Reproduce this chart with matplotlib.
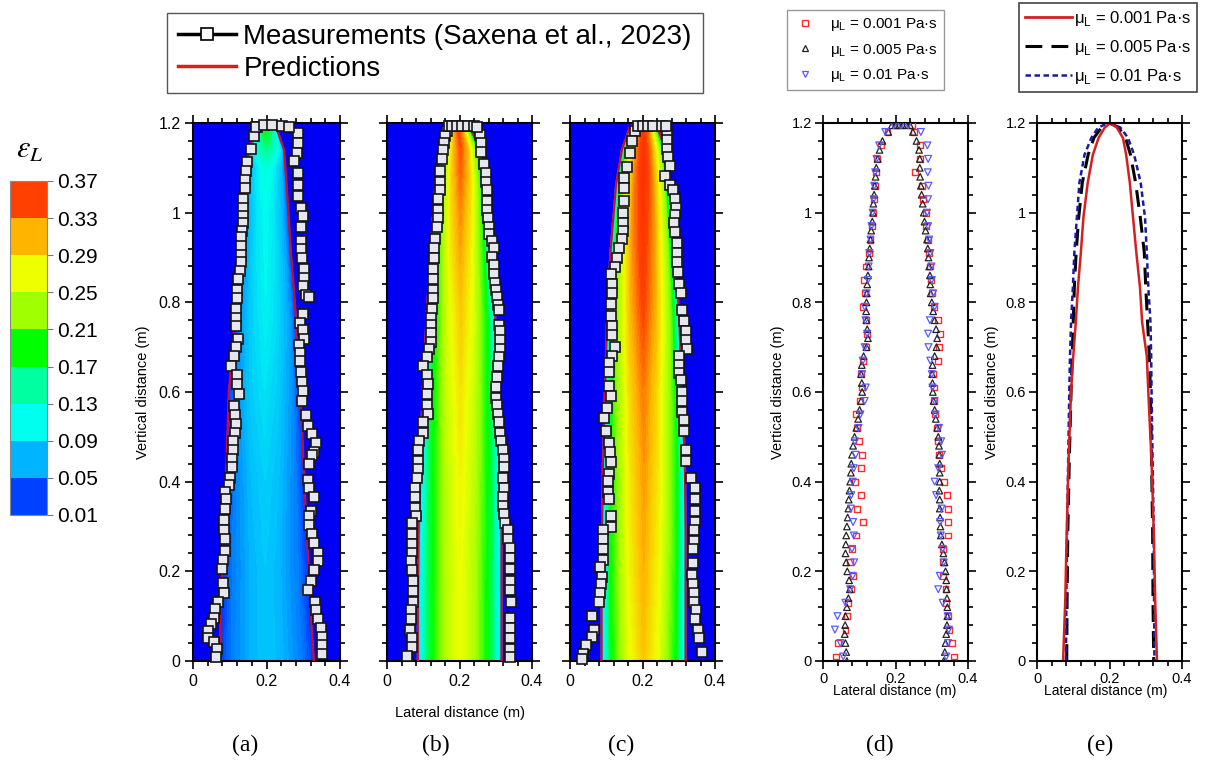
import numpy as np
import matplotlib
matplotlib.use('Agg')
import matplotlib.pyplot as plt
from matplotlib.colors import LinearSegmentedColormap, ListedColormap, BoundaryNorm
from matplotlib.cm import ScalarMappable
from matplotlib.lines import Line2D
from matplotlib.ticker import MultipleLocator, FuncFormatter

plt.rcParams['font.family'] = ['Liberation Sans', 'DejaVu Sans']

# ---------------- colour scale (liquid volume fraction) ----------------
eps_levels = [0.01, 0.05, 0.09, 0.13, 0.17, 0.21, 0.25, 0.29, 0.33, 0.37]
eps_colors = ['#0040FF', '#00B4FF', '#00FFEE', '#00FFA0', '#00FF00',
              '#A0FF00', '#EEFF00', '#FFB400', '#FF4000']
eps_background = '#0000F5'

# ---------------- panels (a)-(c): predictions (red outline) ----------------
pred_y = [0.0, 0.128, 0.284, 0.439, 0.595, 0.750, 0.906, 1.062, 1.140, 1.194]
a_pred_left = [0.072, 0.076, 0.083, 0.091, 0.097, 0.113, 0.128, 0.139, 0.153, 0.171]
a_pred_right = [0.329, 0.319, 0.310, 0.301, 0.292, 0.282, 0.267, 0.255, 0.248, 0.225]
a_apex = 0.200
b_pred_left = [0.085, 0.085, 0.087, 0.091, 0.098, 0.108, 0.119, 0.133, 0.147, 0.166]
b_pred_right = [0.316, 0.316, 0.316, 0.314, 0.307, 0.300, 0.285, 0.273, 0.259, 0.226]
b_apex = 0.200
c_pred_left = [0.087, 0.087, 0.088, 0.091, 0.096, 0.102, 0.111, 0.127, 0.143, 0.166]
c_pred_right = [0.319, 0.319, 0.319, 0.317, 0.309, 0.302, 0.291, 0.277, 0.263, 0.240]
c_apex = 0.205

# centre-line liquid fraction of the predicted plume
core_y = [0.0, 0.2, 0.4, 0.6, 0.8, 1.0, 1.1, 1.18, 1.2]
a_core = [0.080, 0.080, 0.085, 0.095, 0.105, 0.110, 0.120, 0.190, 0.200]
b_core = [0.270, 0.270, 0.275, 0.285, 0.300, 0.325, 0.340, 0.350, 0.340]
c_core = [0.300, 0.310, 0.318, 0.330, 0.352, 0.366, 0.370, 0.365, 0.350]
# lateral profile (fraction of centre value vs. normalised distance from axis)
prof_r = [0.0, 0.35, 0.56, 0.78, 0.95, 1.0, 1.03]
prof_f = [1.0, 0.88, 0.75, 0.61, 0.36, 0.20, 0.0]

# ---------------- panels (a)-(c): measurements ----------------
a_top_x = [0.171, 0.194, 0.215, 0.241, 0.261]
a_top_y = [1.192, 1.195, 1.195, 1.194, 1.192]
a_left_y = [1.190, 1.170, 1.143, 1.112, 1.093, 1.073, 1.054, 1.030, 1.011, 0.992, 0.976, 0.960,
            0.945, 0.925, 0.906, 0.890, 0.871, 0.852, 0.828, 0.809, 0.785, 0.766, 0.747, 0.719,
            0.700, 0.680, 0.657, 0.638, 0.618, 0.595, 0.568, 0.548, 0.529, 0.509, 0.490, 0.471,
            0.451, 0.432, 0.408, 0.393, 0.377, 0.362, 0.338, 0.315, 0.292, 0.272, 0.245, 0.226,
            0.206, 0.175, 0.152, 0.132, 0.117, 0.097, 0.082, 0.066, 0.051, 0.043, 0.027, 0.008]
a_left_x = [0.174, 0.167, 0.157, 0.146, 0.144, 0.142, 0.142, 0.137, 0.137, 0.137, 0.135, 0.133,
            0.131, 0.131, 0.131, 0.130, 0.128, 0.123, 0.120, 0.119, 0.116, 0.116, 0.116, 0.122,
            0.118, 0.111, 0.104, 0.119, 0.120, 0.125, 0.111, 0.113, 0.116, 0.113, 0.108, 0.109,
            0.106, 0.105, 0.100, 0.097, 0.088, 0.091, 0.088, 0.085, 0.083, 0.088, 0.088, 0.081,
            0.079, 0.081, 0.083, 0.069, 0.060, 0.056, 0.048, 0.042, 0.042, 0.056, 0.065, 0.063]
a_right_y = [1.178, 1.155, 1.132, 1.116, 1.089, 1.062, 1.038, 1.011, 0.992, 0.968, 0.937, 0.918,
             0.898, 0.875, 0.855, 0.836, 0.817, 0.813, 0.774, 0.754, 0.739, 0.719, 0.704, 0.688,
             0.669, 0.645, 0.622, 0.603, 0.579, 0.548, 0.525, 0.506, 0.486, 0.467, 0.459, 0.439,
             0.404, 0.385, 0.366, 0.334, 0.323, 0.303, 0.284, 0.264, 0.241, 0.222, 0.202, 0.179,
             0.159, 0.132, 0.113, 0.093, 0.074, 0.054, 0.035, 0.016]
a_right_x = [0.287, 0.285, 0.283, 0.276, 0.285, 0.287, 0.287, 0.294, 0.298, 0.293, 0.294, 0.293,
             0.296, 0.301, 0.301, 0.298, 0.307, 0.315, 0.298, 0.292, 0.298, 0.301, 0.289, 0.292,
             0.292, 0.294, 0.296, 0.298, 0.296, 0.307, 0.313, 0.324, 0.335, 0.329, 0.324, 0.315,
             0.313, 0.317, 0.330, 0.322, 0.317, 0.317, 0.324, 0.329, 0.341, 0.341, 0.328, 0.320,
             0.313, 0.331, 0.335, 0.341, 0.347, 0.350, 0.352, 0.350]

b_top_x = [0.170, 0.180, 0.193, 0.207, 0.223, 0.240, 0.249]
b_top_y = [1.194, 1.194, 1.194, 1.194, 1.194, 1.194, 1.190]
b_left_y = [1.182, 1.170, 1.155, 1.139, 1.120, 1.093, 1.069, 1.050, 1.030, 1.007, 0.988, 0.968,
            0.941, 0.922, 0.898, 0.875, 0.852, 0.828, 0.809, 0.785, 0.766, 0.750, 0.731, 0.712,
            0.696, 0.677, 0.657, 0.638, 0.618, 0.595, 0.572, 0.552, 0.533, 0.509, 0.490, 0.471,
            0.447, 0.428, 0.408, 0.385, 0.366, 0.342, 0.323, 0.307, 0.284, 0.261, 0.241, 0.222,
            0.202, 0.179, 0.156, 0.132, 0.113, 0.093, 0.070, 0.051, 0.031, 0.012]
b_left_x = [0.166, 0.161, 0.156, 0.154, 0.152, 0.147, 0.145, 0.145, 0.142, 0.142, 0.140, 0.138,
            0.133, 0.130, 0.130, 0.128, 0.128, 0.128, 0.126, 0.124, 0.121, 0.121, 0.121, 0.121,
            0.117, 0.110, 0.100, 0.110, 0.112, 0.110, 0.110, 0.112, 0.100, 0.099, 0.089, 0.086,
            0.086, 0.086, 0.082, 0.077, 0.077, 0.077, 0.080, 0.070, 0.068, 0.068, 0.068, 0.065,
            0.068, 0.073, 0.071, 0.071, 0.065, 0.065, 0.063, 0.068, 0.068, 0.054]
b_right_y = [1.174, 1.155, 1.135, 1.108, 1.089, 1.069, 1.050, 1.027, 1.007, 0.988, 0.968, 0.953,
             0.937, 0.922, 0.902, 0.883, 0.863, 0.844, 0.828, 0.813, 0.793, 0.782, 0.750, 0.735,
             0.715, 0.696, 0.677, 0.657, 0.634, 0.611, 0.587, 0.572, 0.552, 0.533, 0.509, 0.490,
             0.471, 0.451, 0.432, 0.408, 0.385, 0.366, 0.346, 0.327, 0.307, 0.292, 0.272, 0.253,
             0.229, 0.206, 0.179, 0.159, 0.132, 0.097, 0.074, 0.051, 0.027, 0.008]
b_right_x = [0.257, 0.259, 0.259, 0.268, 0.272, 0.272, 0.275, 0.275, 0.277, 0.279, 0.282, 0.282,
             0.291, 0.294, 0.291, 0.294, 0.296, 0.298, 0.300, 0.303, 0.305, 0.310, 0.310, 0.312,
             0.312, 0.312, 0.310, 0.305, 0.303, 0.300, 0.300, 0.303, 0.305, 0.310, 0.312, 0.314,
             0.319, 0.322, 0.322, 0.319, 0.322, 0.319, 0.319, 0.322, 0.326, 0.333, 0.335, 0.338,
             0.338, 0.338, 0.338, 0.340, 0.342, 0.338, 0.338, 0.338, 0.338, 0.338]

c_top_x = [0.188, 0.201, 0.215, 0.228, 0.254, 0.265]
c_top_y = [1.194, 1.194, 1.194, 1.194, 1.194, 1.194]
c_left_y = [1.182, 1.159, 1.132, 1.101, 1.077, 1.054, 1.027, 0.999, 0.976, 0.960, 0.941, 0.922,
            0.898, 0.879, 0.863, 0.840, 0.820, 0.797, 0.770, 0.747, 0.727, 0.700, 0.680, 0.665,
            0.645, 0.614, 0.591, 0.564, 0.541, 0.513, 0.486, 0.467, 0.443, 0.416, 0.401, 0.377,
            0.362, 0.323, 0.299, 0.292, 0.272, 0.249, 0.226, 0.210, 0.187, 0.171, 0.152, 0.132,
            0.101, 0.070, 0.054, 0.035, 0.016, 0.004]
c_left_x = [0.178, 0.171, 0.166, 0.157, 0.149, 0.149, 0.149, 0.145, 0.145, 0.145, 0.143, 0.134,
            0.129, 0.125, 0.114, 0.117, 0.117, 0.114, 0.114, 0.116, 0.117, 0.123, 0.117, 0.108,
            0.108, 0.108, 0.114, 0.102, 0.095, 0.099, 0.108, 0.111, 0.114, 0.108, 0.106, 0.104,
            0.108, 0.114, 0.114, 0.092, 0.092, 0.092, 0.090, 0.083, 0.088, 0.086, 0.083, 0.080,
            0.062, 0.065, 0.062, 0.043, 0.037, 0.032]
c_right_y = [1.182, 1.163, 1.143, 1.124, 1.104, 1.081, 1.062, 1.050, 1.030, 1.011, 0.995, 0.976,
             0.956, 0.933, 0.910, 0.890, 0.867, 0.840, 0.820, 0.782, 0.758, 0.735, 0.715, 0.696,
             0.680, 0.661, 0.642, 0.626, 0.599, 0.579, 0.556, 0.537, 0.513, 0.471, 0.447, 0.408,
             0.385, 0.362, 0.334, 0.311, 0.292, 0.268, 0.249, 0.218, 0.191, 0.171, 0.152, 0.132,
             0.113, 0.093, 0.070, 0.051, 0.019]
c_right_x = [0.268, 0.268, 0.268, 0.271, 0.277, 0.263, 0.277, 0.284, 0.289, 0.293, 0.291, 0.286,
             0.289, 0.296, 0.296, 0.296, 0.298, 0.300, 0.305, 0.308, 0.314, 0.321, 0.321, 0.323,
             0.302, 0.302, 0.302, 0.305, 0.308, 0.308, 0.310, 0.314, 0.314, 0.319, 0.321, 0.333,
             0.345, 0.345, 0.345, 0.345, 0.342, 0.342, 0.339, 0.339, 0.337, 0.339, 0.342, 0.342,
             0.348, 0.345, 0.354, 0.356, 0.365]

# ---------------- panel (d): measured plume boundary for three viscosities ----------------
d_black_y = [0.00, 0.02, 0.04, 0.06, 0.08, 0.10, 0.12, 0.14, 0.16, 0.18,
             0.20, 0.22, 0.24, 0.26, 0.28, 0.30, 0.32, 0.34, 0.36, 0.38,
             0.40, 0.42, 0.44, 0.46, 0.48, 0.50, 0.52, 0.54, 0.56, 0.58,
             0.60, 0.62, 0.64, 0.66, 0.68, 0.70, 0.72, 0.74, 0.76, 0.78,
             0.80, 0.82, 0.84, 0.86, 0.88, 0.90, 0.92, 0.94, 0.96, 0.98,
             1.00, 1.02, 1.04, 1.06, 1.08, 1.10, 1.12, 1.14, 1.16, 1.18]
d_black_left = [0.066, 0.064, 0.062, 0.060, 0.061, 0.062, 0.066, 0.070, 0.074, 0.072,
                0.067, 0.064, 0.062, 0.063, 0.064, 0.066, 0.068, 0.070, 0.071, 0.073,
                0.075, 0.077, 0.078, 0.080, 0.083, 0.087, 0.092, 0.097, 0.101, 0.105,
                0.108, 0.107, 0.105, 0.107, 0.112, 0.120, 0.124, 0.122, 0.120, 0.119,
                0.120, 0.121, 0.122, 0.124, 0.126, 0.127, 0.129, 0.131, 0.133, 0.136,
                0.138, 0.139, 0.141, 0.143, 0.145, 0.147, 0.151, 0.156, 0.164, 0.180]
d_black_right = [0.333, 0.336, 0.338, 0.340, 0.342, 0.343, 0.343, 0.342, 0.341, 0.340,
                 0.338, 0.335, 0.332, 0.328, 0.325, 0.324, 0.323, 0.322, 0.322, 0.321,
                 0.322, 0.322, 0.322, 0.321, 0.320, 0.318, 0.315, 0.311, 0.308, 0.305,
                 0.303, 0.302, 0.301, 0.302, 0.308, 0.313, 0.315, 0.312, 0.308, 0.304,
                 0.300, 0.297, 0.296, 0.295, 0.293, 0.291, 0.289, 0.287, 0.283, 0.280,
                 0.278, 0.275, 0.272, 0.270, 0.268, 0.267, 0.267, 0.265, 0.258, 0.248]
d_black_top = [0.190, 0.200, 0.210, 0.220, 0.230, 0.240]

d_ry = [0.01, 0.04, 0.07, 0.10, 0.13, 0.16, 0.19, 0.22, 0.25, 0.28,
        0.31, 0.34, 0.37, 0.40, 0.43, 0.46, 0.49, 0.52, 0.55, 0.58,
        0.61, 0.64, 0.67, 0.70, 0.73, 0.76, 0.79, 0.82, 0.85, 0.88,
        0.91, 0.94, 0.97, 1.00, 1.03, 1.06, 1.09, 1.12, 1.15, 1.18]
d_red_left = [0.035, 0.042, 0.062, 0.066, 0.070, 0.078, 0.083, 0.075, 0.079, 0.090,
              0.111, 0.095, 0.105, 0.088, 0.106, 0.108, 0.100, 0.093, 0.091, 0.103,
              0.108, 0.106, 0.110, 0.118, 0.121, 0.119, 0.111, 0.116, 0.113, 0.119,
              0.127, 0.131, 0.134, 0.138, 0.140, 0.143, 0.146, 0.150, 0.160, 0.178]
d_red_right = [0.361, 0.355, 0.348, 0.344, 0.340, 0.338, 0.330, 0.332, 0.330, 0.345,
               0.344, 0.345, 0.343, 0.335, 0.326, 0.320, 0.318, 0.314, 0.310, 0.306,
               0.305, 0.303, 0.318, 0.320, 0.322, 0.318, 0.305, 0.300, 0.298, 0.296,
               0.292, 0.290, 0.285, 0.283, 0.277, 0.272, 0.255, 0.268, 0.268, 0.252]
d_red_top = [0.205, 0.245]
d_blue_left = [0.056, 0.048, 0.033, 0.040, 0.062, 0.075, 0.082, 0.086, 0.080, 0.085,
               0.083, 0.077, 0.078, 0.082, 0.085, 0.090, 0.088, 0.098, 0.103, 0.115,
               0.118, 0.108, 0.110, 0.115, 0.122, 0.117, 0.115, 0.120, 0.124, 0.126,
               0.128, 0.131, 0.134, 0.137, 0.140, 0.141, 0.144, 0.148, 0.155, 0.172]
d_blue_right = [0.340, 0.345, 0.347, 0.344, 0.330, 0.318, 0.322, 0.333, 0.330, 0.325,
                0.323, 0.327, 0.312, 0.308, 0.318, 0.328, 0.326, 0.320, 0.310, 0.308,
                0.302, 0.300, 0.296, 0.291, 0.290, 0.295, 0.308, 0.304, 0.300, 0.299,
                0.296, 0.293, 0.290, 0.287, 0.290, 0.291, 0.289, 0.290, 0.288, 0.270]
d_blue_top = [0.195, 0.215, 0.235]

# ---------------- panel (e): predicted plume boundary ----------------
e_y = [0.0, 0.136, 0.291, 0.446, 0.601, 0.679, 0.756, 0.834, 0.911, 0.989,
       1.067, 1.129, 1.167, 1.190, 1.200]
e_red_left = [0.072, 0.078, 0.082, 0.087, 0.094, 0.100, 0.107, 0.113, 0.121, 0.128,
              0.140, 0.154, 0.170, 0.187, 0.202]
e_red_right = [0.331, 0.326, 0.322, 0.316, 0.307, 0.303, 0.290, 0.284, 0.274, 0.265,
               0.256, 0.246, 0.237, 0.220, 0.202]
e_black_left = [0.082, 0.083, 0.085, 0.089, 0.094, 0.097, 0.100, 0.103, 0.108, 0.115,
                0.125, 0.141, 0.157, 0.178, 0.200]
e_black_right = [0.322, 0.320, 0.319, 0.316, 0.313, 0.310, 0.305, 0.300, 0.296, 0.285,
                 0.272, 0.258, 0.244, 0.225, 0.200]
e_blue_left = [0.080, 0.081, 0.083, 0.086, 0.089, 0.091, 0.094, 0.099, 0.103, 0.110,
               0.117, 0.131, 0.150, 0.169, 0.197]
e_blue_right = [0.324, 0.323, 0.322, 0.319, 0.316, 0.315, 0.313, 0.307, 0.303, 0.298,
                0.286, 0.268, 0.251, 0.230, 0.197]

mu_labels = ['μ$_\\mathregular{L}$ = 0.001 Pa·s', 'μ$_\\mathregular{L}$ = 0.005 Pa·s',
             'μ$_\\mathregular{L}$ = 0.01 Pa·s']
panel_tags = ['(a)', '(b)', '(c)', '(d)', '(e)']

# ======================================================================
W, H = 1224, 761
fig = plt.figure(figsize=(W / 100, H / 100), dpi=100)


def px_axes(x0, x1, ytop=123, ybot=661):
    return fig.add_axes([x0 / W, 1 - ybot / H, (x1 - x0) / W, (ybot - ytop) / H])


def style(ax, ylabels=True, labelsize=11.5, pad=3):
    ax.set_xlim(0, 0.4)
    ax.set_ylim(0, 1.2)
    ax.xaxis.set_major_locator(MultipleLocator(0.2))
    ax.xaxis.set_minor_locator(MultipleLocator(0.04))
    ax.yaxis.set_major_locator(MultipleLocator(0.2))
    ax.yaxis.set_minor_locator(MultipleLocator(0.04))
    fmt = FuncFormatter(lambda v, p: f'{v:g}')
    ax.xaxis.set_major_formatter(fmt)
    ax.yaxis.set_major_formatter(fmt)
    ax.tick_params(which='both', direction='out', top=True, right=True,
                   labelsize=labelsize, width=1.2)
    ax.tick_params(which='major', length=6, pad=pad)
    ax.tick_params(which='minor', length=3.5)
    if not ylabels:
        ax.tick_params(labelleft=False)
    for s in ax.spines.values():
        s.set_linewidth(1.5)


# field colormap (continuous through the legend colours)
mids = [(eps_levels[i] + eps_levels[i + 1]) / 2 for i in range(len(eps_colors))]
vmin, vmax = eps_levels[0], eps_levels[-1]
anchors = [(0.0, '#0020FF')] + [((m - vmin) / (vmax - vmin), c) for m, c in zip(mids, eps_colors)] + [(1.0, '#FF3000')]
field_cmap = LinearSegmentedColormap.from_list('eps', anchors)
field_cmap.set_under(eps_background)
field_cmap.set_over('#FF3000')

xs = np.linspace(0, 0.4, 241)
ys = np.linspace(0, 1.2, 481)
X, Y = np.meshgrid(xs, ys)


def field(left, right, apex, core):
    yl = pred_y + [1.2]
    L = np.interp(ys, yl, left + [apex])
    R = np.interp(ys, yl, right + [apex])
    C = (L + R) / 2
    HW = np.maximum((R - L) / 2, 0.004)
    cv = np.interp(ys, core_y, core)
    r = np.abs(X - C[:, None]) / HW[:, None]
    return cv[:, None] * np.interp(r, prof_r, prof_f)


panels = [
    (193, 340, a_pred_left, a_pred_right, a_apex, a_core,
     (a_left_x, a_left_y), (a_right_x, a_right_y), (a_top_x, a_top_y)),
    (387, 532, b_pred_left, b_pred_right, b_apex, b_core,
     (b_left_x, b_left_y), (b_right_x, b_right_y), (b_top_x, b_top_y)),
    (570, 715, c_pred_left, c_pred_right, c_apex, c_core,
     (c_left_x, c_left_y), (c_right_x, c_right_y), (c_top_x, c_top_y)),
]
field_levels = np.linspace(vmin, vmax, 73)
for i, (x0, x1, pl, pr, apex, core, ml, mr, mt) in enumerate(panels):
    ax = px_axes(x0, x1)
    Z = field(pl, pr, apex, core)
    ax.contourf(X, Y, Z, levels=field_levels, cmap=field_cmap, extend='both')
    line_x = pl + [apex] + pr[::-1]
    line_y = pred_y + [1.2] + pred_y[::-1]
    ax.plot(line_x, line_y, color='#C8102E', lw=1.6, zorder=3)
    for mx, my in (ml, mr, mt):
        ax.plot(mx, my, ls='none', marker='s', ms=6.6, mfc='#E6E6EE', mec='#151515',
                mew=1.2, zorder=4, clip_on=False)
    style(ax, ylabels=(i == 0))
    if i == 0:
        ax.set_ylabel('Vertical distance (m)', fontsize=10.5, labelpad=6)

# panel (d)
axd = px_axes(823, 968)
axd.scatter(d_red_left + d_red_right + d_red_top,
            d_ry + d_ry + [1.195] * len(d_red_top),
            marker='s', s=18, facecolors='none', edgecolors='#FF2A2A', linewidths=1.0, zorder=3)
axd.scatter(d_black_left + d_black_right + d_black_top,
            d_black_y + d_black_y + [1.195] * len(d_black_top),
            marker='^', s=22, facecolors='none', edgecolors='#222222', linewidths=0.9, zorder=4)
axd.scatter(d_blue_left + d_blue_right + d_blue_top,
            d_ry + d_ry + [1.195] * len(d_blue_top),
            marker='v', s=24, facecolors='none', edgecolors='#5A5AFF', linewidths=0.9, zorder=5)
style(axd, labelsize=10.5, pad=2)
axd.set_ylabel('Vertical distance (m)', fontsize=10.5, labelpad=5)

# panel (e)
axe = px_axes(1037, 1182)
axe.plot(e_black_left + e_black_right[::-1], e_y + e_y[::-1], color='black', lw=2.2,
         dashes=(5.5, 3))
axe.plot(e_blue_left + e_blue_right[::-1], e_y + e_y[::-1], color='#1A1AA0', lw=1.8,
         dashes=(2.2, 1.4))
axe.plot(e_red_left + e_red_right[::-1], e_y + e_y[::-1], color='#D42020', lw=1.8)
style(axe, labelsize=10.5, pad=2)
axe.set_ylabel('Vertical distance (m)', fontsize=10.5, labelpad=5)

# x labels
fig.text(460 / W, 1 - 713 / H, 'Lateral distance (m)', ha='center', va='center', fontsize=10.5)
fig.text(895 / W, 1 - 691 / H, 'Lateral distance (m)', ha='center', va='center', fontsize=10)
fig.text(1106 / W, 1 - 691 / H, 'Lateral distance (m)', ha='center', va='center', fontsize=10)

# panel tags
for tag, xp in zip(panel_tags, [245, 436, 621, 880, 1100]):
    fig.text(xp / W, 1 - 745 / H, tag, ha='center', va='center', fontsize=17,
             family=['Liberation Serif', 'DejaVu Serif'])

# colour bar
cax = fig.add_axes([10 / W, 1 - 515 / H, 37 / W, 334 / H])
sm = ScalarMappable(norm=BoundaryNorm(eps_levels, len(eps_colors)),
                    cmap=ListedColormap(eps_colors))
cb = fig.colorbar(sm, cax=cax, ticks=eps_levels)
cb.ax.set_yticklabels([f'{v:.2f}' for v in eps_levels])
cb.ax.tick_params(labelsize=15, length=4, width=0.8, color='#777777', pad=3)
cb.outline.set_edgecolor('#888888')
cb.outline.set_linewidth(0.8)
fig.text(30 / W, 1 - 150 / H, r'$\varepsilon_L$', ha='center', va='center', fontsize=22,
         math_fontfamily='stix')

# legends
h_top = [Line2D([], [], color='black', lw=2.5, marker='s', ms=9, mfc='white', mec='black', mew=1.2),
         Line2D([], [], color='#D42020', lw=2.5)]
lt = fig.legend(h_top, ['Measurements (Saxena et al., 2023)', 'Predictions'],
                loc='upper left', bbox_to_anchor=(167 / W, 1 - 13 / H), fontsize=20,
                frameon=True, fancybox=False, edgecolor='#555555', framealpha=1,
                handlelength=2.1, handletextpad=0.25, borderpad=0.4, labelspacing=0.2,
                borderaxespad=0)
lt.get_frame().set_linewidth(1.0)

h_d = [Line2D([], [], ls='none', marker='s', ms=4.5, mfc='none', mec='#FF2A2A', mew=1.0),
       Line2D([], [], ls='none', marker='^', ms=5, mfc='none', mec='#222222', mew=0.9),
       Line2D([], [], ls='none', marker='v', ms=5, mfc='none', mec='#5A5AFF', mew=0.9)]
ld = fig.legend(h_d, mu_labels, loc='upper left', bbox_to_anchor=(787 / W, 1 - 10 / H),
                fontsize=11, frameon=True, fancybox=False, edgecolor='#999999', framealpha=1,
                handlelength=1.6, handletextpad=0.8, borderpad=0.4, labelspacing=0.55,
                borderaxespad=0)
ld.get_frame().set_linewidth(1.0)

h_e = [Line2D([], [], color='#D42020', lw=2),
       Line2D([], [], color='black', lw=2.2, dashes=(5.5, 3)),
       Line2D([], [], color='#1A1AA0', lw=1.8, dashes=(2.2, 1.4))]
le = fig.legend(h_e, mu_labels, loc='upper left', bbox_to_anchor=(1019 / W, 1 - 3 / H),
                fontsize=12, frameon=True, fancybox=False, edgecolor='#444444', framealpha=1,
                handlelength=2.8, handletextpad=0.15, borderpad=0.35, labelspacing=0.6,
                borderaxespad=0)
le.get_frame().set_linewidth(1.2)

fig.savefig('out.png', dpi=100)
